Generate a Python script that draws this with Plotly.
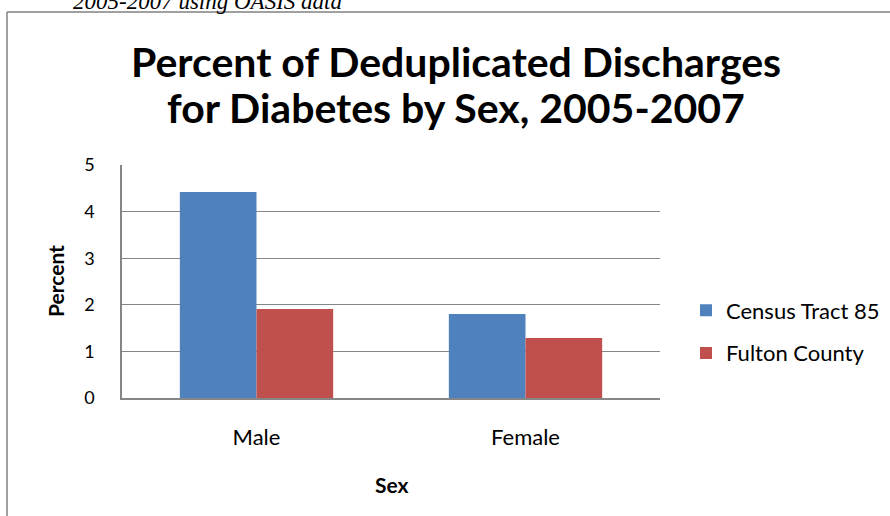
import plotly.graph_objects as go

categories = ["Male", "Female"]
census_tract_85 = [4.42, 1.80]
fulton_county = [1.91, 1.29]
series_names = ["Census Tract 85", "Fulton County"]
y_ticks = [0, 1, 2, 3, 4, 5]
title_lines = ["Percent of Deduplicated Discharges", "for Diabetes by Sex, 2005-2007"]

W, H = 890, 516
L, R, T, B = 122, 660, 165, 398
pw, ph = R - L, B - T

def px(x):
    return (x - L) / pw

def py(y):
    return (B - y) / ph

FONT = "Lato"
fig = go.Figure()
fig.add_trace(go.Bar(x=categories, y=census_tract_85, name=series_names[0],
                     marker=dict(color="#4F81BD", line=dict(width=0)), legendgroup="a"))
fig.add_trace(go.Bar(x=categories, y=fulton_county, name=series_names[1],
                     marker=dict(color="#C0504D", line=dict(width=0)), legendgroup="b"))

fig.update_layout(
    width=W, height=H,
    margin=dict(l=L, r=W - R, t=T, b=H - B, autoexpand=False),
    paper_bgcolor="white", plot_bgcolor="white",
    barmode="group", bargap=0.43, bargroupgap=0,
    font=dict(family=FONT, color="#000000"),
    showlegend=True,
    legend=dict(x=px(686), xanchor="left", y=py(332), yanchor="middle",
                font=dict(family=FONT, size=22, color="#000000"),
                tracegroupgap=11, bgcolor="rgba(0,0,0,0)"),
    xaxis=dict(showline=True, linecolor="#868686", linewidth=1.5, showgrid=False,
               ticks="", tickfont=dict(family=FONT, size=22, color="#000000"),
               ticklabelstandoff=19),
    yaxis=dict(range=[0, 5], tickvals=y_ticks, showgrid=True, gridcolor="#868686",
               gridwidth=1.2, showline=True, linecolor="#868686", linewidth=1.5,
               ticks="", zeroline=False, tickfont=dict(family=FONT, size=18, color="#000000"),
               ticklabelstandoff=22),
)

for line, yc in zip(title_lines, [61, 108]):
    fig.add_annotation(text="<b>" + line + "</b>", xref="paper", yref="paper",
                       x=px(456), y=py(yc), xanchor="center", yanchor="middle", showarrow=False,
                       font=dict(family=FONT, size=41, color="#000000"))

fig.add_annotation(text="<b>Percent</b>", xref="paper", yref="paper",
                   x=px(55), y=py(281), xanchor="center", yanchor="middle",
                   textangle=-90, showarrow=False,
                   font=dict(family=FONT, size=21, color="#000000"))
fig.add_annotation(text="<b>Sex</b>", xref="paper", yref="paper",
                   x=px(392), y=py(484), xanchor="center", yanchor="middle", showarrow=False,
                   font=dict(family=FONT, size=21, color="#000000"))
fig.add_annotation(text="<i>2005-2007 using OASIS data</i>", xref="paper", yref="paper",
                   x=px(71), y=py(16), xanchor="left", yanchor="bottom", showarrow=False,
                   font=dict(family="Liberation Serif", size=23, color="#000000"))

fig.add_shape(type="line", xref="paper", yref="paper", x0=px(7), x1=px(7), y0=py(12), y1=py(520),
              line=dict(color="#808080", width=1.5))
fig.add_shape(type="line", xref="paper", yref="paper", x0=px(7), x1=px(895), y0=py(12), y1=py(12),
              line=dict(color="#808080", width=1.5))

fig.write_html("out.html", config={"displayModeBar": False},
               post_script="document.body.style.margin='0';")
